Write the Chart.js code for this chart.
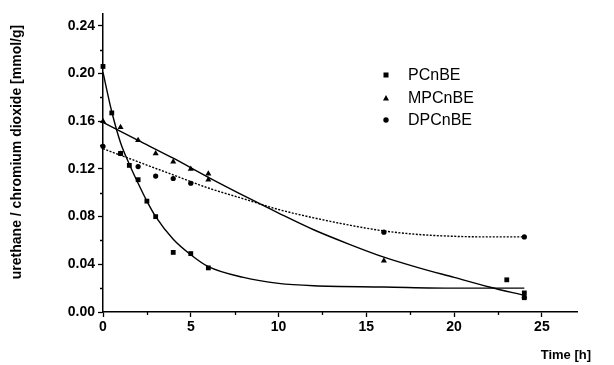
<!DOCTYPE html>
<html>
<head>
<meta charset="utf-8">
<script src="https://cdn.jsdelivr.net/npm/chart.js@4.4.1/dist/chart.umd.min.js"></script>
<style>
  html, body { margin: 0; padding: 0; background: #fff; }
  canvas { display: block; }
</style>
</head>
<body>
<canvas id="chart" width="614" height="365"></canvas>
<script>
// measured points (time in h, value in mmol/g)
const pcnbeTime = [0, 0.5, 1, 1.5, 2, 2.5, 3, 4, 5, 6, 23, 24, 24];
const pcnbeValue = [0.206, 0.167, 0.133, 0.123, 0.111, 0.093, 0.080, 0.050, 0.049, 0.037, 0.027, 0.016, 0.012];
const mpcnbeTime = [0, 1, 2, 3, 4, 5, 6, 6, 16, 24];
const mpcnbeValue = [0.160, 0.155, 0.144, 0.133, 0.126, 0.120, 0.116, 0.111, 0.043, 0.013];
const dpcnbeTime = [0, 1, 2, 3, 4, 5, 16, 24];
const dpcnbeValue = [0.139, 0.133, 0.122, 0.114, 0.112, 0.108, 0.067, 0.063];

// fitted curves
const pcnbeFitTime = [0, 0.5, 1, 1.5, 2, 2.5, 3, 4, 5, 6, 8, 10, 12, 16, 20, 24];
const pcnbeFitValue = [0.201, 0.168, 0.142, 0.124, 0.108, 0.093, 0.080, 0.061, 0.048, 0.038, 0.029, 0.024, 0.022, 0.021, 0.020, 0.020];
const mpcnbeFitTime = [0, 2, 4, 6, 8.5, 10, 12, 14, 16, 18, 20, 22, 24];
const mpcnbeFitValue = [0.159, 0.144, 0.129, 0.113, 0.094, 0.083, 0.069, 0.057, 0.046, 0.037, 0.029, 0.021, 0.014];
const dpcnbeFitTime = [0, 2, 4, 6, 8, 10, 12, 14, 16, 18, 20, 22, 24];
const dpcnbeFitValue = [0.137, 0.126, 0.115, 0.104, 0.095, 0.086, 0.079, 0.073, 0.068, 0.065, 0.0635, 0.063, 0.063];

const seriesNames = ['PCnBE', 'MPCnBE', 'DPCnBE'];
const xTicks = [0, 5, 10, 15, 20, 25];
const yTicks = [0, 0.04, 0.08, 0.12, 0.16, 0.20, 0.24];

const FONT = "'Liberation Sans', Arial, sans-serif";

function toPoints(xs, ys) {
    return xs.map((x, i) => ({ x: x, y: ys[i] }));
}

function fitLine(xs, ys, dash) {
    return {
        type: 'line',
        data: toPoints(xs, ys),
        borderColor: '#000',
        borderWidth: 1.4,
        borderDash: dash || [],
        pointRadius: 0,
        showLine: true,
        fill: false,
        cubicInterpolationMode: 'monotone',
        clip: false
    };
}

function markers(label, xs, ys, style, radius) {
    return {
        label: label,
        data: toPoints(xs, ys),
        pointStyle: style,
        pointRadius: radius,
        backgroundColor: '#000',
        borderColor: '#000',
        borderWidth: 0,
        showLine: false,
        clip: false
    };
}

// minor ticks, axis titles and the legend box
const extrasPlugin = {
    id: 'extras',
    afterDraw(chart) {
        const ctx = chart.ctx;
        const xs = chart.scales.x;
        const ys = chart.scales.y;
        ctx.save();
        ctx.strokeStyle = '#000';
        ctx.lineWidth = 1.3;
        ctx.beginPath();
        for (let v = 2.5; v < 27; v += 5) {
            const px = Math.round(xs.getPixelForValue(v)) + 0.5;
            ctx.moveTo(px, xs.top);
            ctx.lineTo(px, xs.top + 3);
        }
        for (let v = 0.02; v < 0.25; v += 0.04) {
            const py = Math.round(ys.getPixelForValue(v)) + 0.5;
            ctx.moveTo(ys.right, py);
            ctx.lineTo(ys.right - 3, py);
        }
        ctx.stroke();

        ctx.fillStyle = '#000';
        // y title
        ctx.save();
        ctx.translate(17, 152);
        ctx.rotate(-Math.PI / 2);
        ctx.font = 'bold 14px ' + FONT;
        ctx.textAlign = 'center';
        ctx.textBaseline = 'middle';
        ctx.fillText('urethane / chromium dioxide [mmol/g]', 0, 0);
        ctx.restore();
        // x title
        ctx.font = 'bold 13px ' + FONT;
        ctx.textAlign = 'right';
        ctx.textBaseline = 'middle';
        ctx.fillText('Time [h]', 591, 355);

        // legend
        const lx = 386;
        const rows = [75, 98, 120];
        ctx.font = '16px ' + FONT;
        ctx.textAlign = 'left';
        rows.forEach((ry, i) => {
            if (i === 0) {
                ctx.fillRect(lx - 2.5, ry - 2.5, 5, 5);
            } else if (i === 1) {
                ctx.beginPath();
                ctx.moveTo(lx, ry - 3);
                ctx.lineTo(lx + 3, ry + 2.5);
                ctx.lineTo(lx - 3, ry + 2.5);
                ctx.closePath();
                ctx.fill();
            } else {
                ctx.beginPath();
                ctx.arc(lx, ry, 2.7, 0, Math.PI * 2);
                ctx.fill();
            }
            ctx.fillText(seriesNames[i], 408, ry + 1);
        });
        ctx.restore();
    }
};

const ctx = document.getElementById('chart').getContext('2d');
new Chart(ctx, {
    type: 'scatter',
    data: {
        datasets: [
            fitLine(pcnbeFitTime, pcnbeFitValue),
            fitLine(mpcnbeFitTime, mpcnbeFitValue),
            fitLine(dpcnbeFitTime, dpcnbeFitValue, [2, 1.5]),
            markers(seriesNames[0], pcnbeTime, pcnbeValue, 'rect', 3.4),
            markers(seriesNames[1], mpcnbeTime, mpcnbeValue, 'triangle', 3.5),
            markers(seriesNames[2], dpcnbeTime, dpcnbeValue, 'circle', 2.6)
        ]
    },
    options: {
        responsive: false,
        animation: false,
        devicePixelRatio: 1,
        layout: { padding: { top: 14, right: 37, left: 0, bottom: 0 } },
        plugins: {
            legend: { display: false },
            tooltip: { enabled: false }
        },
        scales: {
            x: {
                type: 'linear',
                min: 0,
                max: 27,
                afterFit: (scale) => { scale.height = 53; },
                afterBuildTicks: (scale) => { scale.ticks = xTicks.map(v => ({ value: v })); },
                border: { display: true, color: '#000', width: 1.5 },
                grid: { drawOnChartArea: false, drawTicks: true, tickLength: 5, tickColor: '#000', tickWidth: 1.3 },
                ticks: {
                    color: '#000',
                    padding: 2,
                    maxRotation: 0,
                    font: { family: FONT, size: 14, weight: 'bold' }
                }
            },
            y: {
                type: 'linear',
                min: 0,
                max: 0.25,
                afterFit: (scale) => { scale.width = 103; },
                afterBuildTicks: (scale) => { scale.ticks = yTicks.map(v => ({ value: v })); },
                border: { display: true, color: '#000', width: 1.5 },
                grid: { drawOnChartArea: false, drawTicks: true, tickLength: 5, tickColor: '#000', tickWidth: 1.3 },
                ticks: {
                    color: '#000',
                    padding: 3,
                    font: { family: FONT, size: 14, weight: 'bold' },
                    callback: (v) => v.toFixed(2)
                }
            }
        }
    },
    plugins: [extrasPlugin]
});
</script>
</body>
</html>
